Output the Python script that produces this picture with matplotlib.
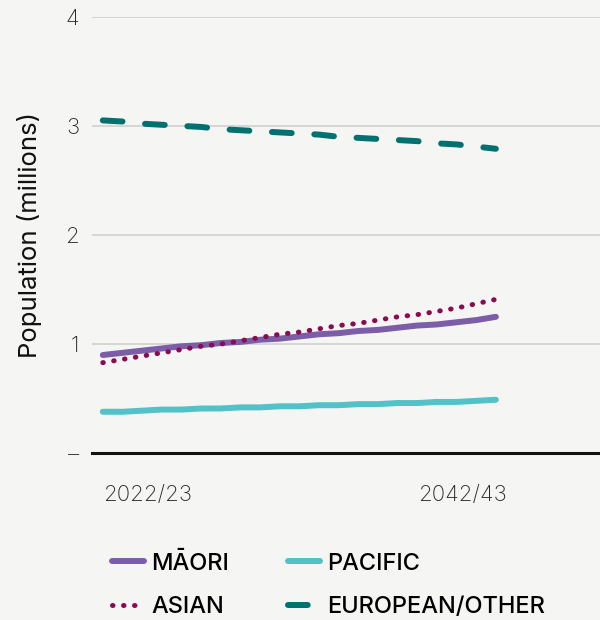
import matplotlib
matplotlib.use("Agg")
import matplotlib.pyplot as plt
import matplotlib.transforms as mtransforms
import numpy as np

plt.rcParams['font.family'] = ['Inter', 'DejaVu Sans']

# projection years 2022/23 .. 2042/43
years = ['2022/23', '2023/24', '2024/25', '2025/26', '2026/27', '2027/28', '2028/29',
         '2029/30', '2030/31', '2031/32', '2032/33', '2033/34', '2034/35', '2035/36',
         '2036/37', '2037/38', '2038/39', '2039/40', '2040/41', '2041/42', '2042/43']

maori = [0.90, 0.92, 0.94, 0.96, 0.98, 0.99, 1.01, 1.02, 1.04, 1.05, 1.07,
         1.09, 1.10, 1.12, 1.13, 1.15, 1.17, 1.18, 1.20, 1.22, 1.25]
pacific = [0.38, 0.38, 0.39, 0.40, 0.40, 0.41, 0.41, 0.42, 0.42, 0.43, 0.43,
           0.44, 0.44, 0.45, 0.45, 0.46, 0.46, 0.47, 0.47, 0.48, 0.49]
asian = [0.83, 0.86, 0.89, 0.92, 0.95, 0.98, 1.00, 1.03, 1.06, 1.09, 1.11,
         1.14, 1.17, 1.19, 1.22, 1.25, 1.27, 1.30, 1.33, 1.37, 1.41]
european = [3.05, 3.04, 3.02, 3.01, 3.00, 2.99, 2.97, 2.96, 2.95, 2.94, 2.93,
            2.92, 2.90, 2.89, 2.88, 2.87, 2.86, 2.84, 2.83, 2.81, 2.79]

ytick_vals = [0, 1, 2, 3, 4]
ytick_labels = ['–', '1', '2', '3', '4']
xtick_labels = [years[0], years[-1]]

bg = '#f5f6f4'
fig = plt.figure(figsize=(6, 6.2), dpi=100, facecolor=bg)
ax = fig.add_axes([0.153, 0.269, 0.847, 0.704])
ax.set_facecolor(bg)

x = np.arange(len(years))
ax.plot(x, maori, color='#7b5ea7', lw=4.3, solid_capstyle='round', label='MĀORI', zorder=4)
ax.plot(x, pacific, color='#52c1c8', lw=4.3, solid_capstyle='round', label='PACIFIC', zorder=4)
ax.plot(x, asian, color='#8a0b52', lw=3.6, linestyle=(0, (0.1, 2.1)),
        dash_capstyle='round', label='ASIAN', zorder=5)
ax.plot(x, european, color='#00716f', lw=4.3, linestyle=(0, (3.3, 3.8)),
        dash_capstyle='round', label='EUROPEAN/OTHER', zorder=4)

ax.set_xlim(-0.56, 25.3)
ax.set_ylim(0, 4)
ax.set_yticks(ytick_vals)
ax.set_yticklabels(ytick_labels, fontsize=16, fontweight='light', color='#2a2a2a')
ax.tick_params(axis='y', length=0, pad=9)
ax.grid(axis='y', color='#d3d3d3', lw=1.3, zorder=0)
ax.set_axisbelow(True)

ax.set_xticks([x[0], x[-1]])
ax.set_xticklabels(xtick_labels, fontsize=16, fontweight='light', color='#2a2a2a')
ax.tick_params(axis='x', length=0, pad=23)
xl = ax.get_xticklabels()
xl[0].set_ha('left')
xl[1].set_ha('right')
xl[1].set_transform(xl[1].get_transform() +
                    mtransforms.ScaledTranslation(11 / 100, 0, fig.dpi_scale_trans))

for s in ['left', 'right', 'top']:
    ax.spines[s].set_visible(False)
ax.spines['bottom'].set_color('#111111')
ax.spines['bottom'].set_linewidth(2.2)
ax.spines['bottom'].set_zorder(6)

ax.set_ylabel('Population (millions)', fontsize=18.5, color='#111111', labelpad=17)

# legend fills column by column: MĀORI, ASIAN | PACIFIC, EUROPEAN/OTHER
handles, labels = ax.get_legend_handles_labels()
order = [0, 2, 1, 3]
fig.legend([handles[i] for i in order], [labels[i] for i in order],
           loc='upper left', bbox_to_anchor=(0.187, 0.109), ncol=2, frameon=False,
           prop={'size': 17, 'weight': 'medium'}, handlelength=1.35, handletextpad=0.3,
           columnspacing=2.5, labelspacing=0.9, borderpad=0, borderaxespad=0)

fig.savefig('out.png', dpi=100, facecolor=bg)
